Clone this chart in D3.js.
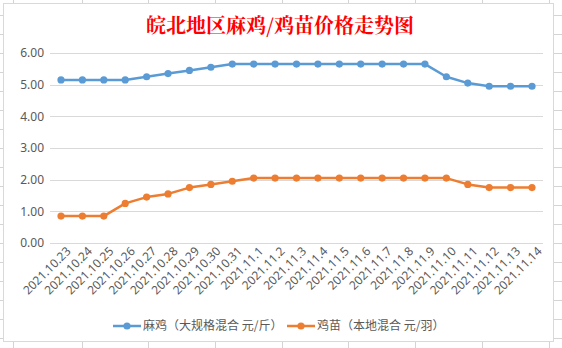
<!DOCTYPE html>
<html><head><meta charset="utf-8">
<script src="https://cdn.jsdelivr.net/npm/d3@7"></script>
<style>
html,body{margin:0;padding:0;background:#fff;}
svg{display:block;font-family:"Noto Sans CJK SC","Microsoft YaHei",sans-serif;}
</style></head>
<body>
<svg id="c" width="562" height="348"></svg>
<script>
const title = "皖北地区麻鸡/鸡苗价格走势图";
const categories = ["2021.10.23","2021.10.24","2021.10.25","2021.10.26","2021.10.27","2021.10.28","2021.10.29","2021.10.30","2021.10.31","2021.11.1","2021.11.2","2021.11.3","2021.11.4","2021.11.5","2021.11.6","2021.11.7","2021.11.8","2021.11.9","2021.11.10","2021.11.11","2021.11.12","2021.11.13","2021.11.14"];
const seriesNames = ["麻鸡（大规格混合 元/斤）","鸡苗（本地混合 元/羽）"];
const maji = [5.15,5.15,5.15,5.15,5.25,5.35,5.45,5.55,5.65,5.65,5.65,5.65,5.65,5.65,5.65,5.65,5.65,5.65,5.25,5.05,4.95,4.95,4.95];
const jimiao = [0.85,0.85,0.85,1.25,1.45,1.55,1.75,1.85,1.95,2.05,2.05,2.05,2.05,2.05,2.05,2.05,2.05,2.05,2.05,1.85,1.75,1.75,1.75];
const yTicks = [0,1,2,3,4,5,6];
const colors = ["#5B9BD5","#ED7D31"];

const svg = d3.select("#c");
const bg = svg.append("g").attr("stroke","#d4d4d4").attr("stroke-width",1);
[13,82,148,215,282,348,415,482,549].forEach(x=>{
  bg.append("line").attr("x1",x+0.5).attr("x2",x+0.5).attr("y1",0).attr("y2",3);
  bg.append("line").attr("x1",x+0.5).attr("x2",x+0.5).attr("y1",342).attr("y2",348);
});
d3.range(15,348,19).forEach(y=>{
  bg.append("line").attr("x1",0).attr("x2",3).attr("y1",y+0.5).attr("y2",y+0.5);
  bg.append("line").attr("x1",554).attr("x2",562).attr("y1",y+0.5).attr("y2",y+0.5);
});
svg.append("rect").attr("x",3.5).attr("y",3.5).attr("width",550).attr("height",338)
  .attr("fill","#fff").attr("stroke","#d9d9d9");

const x = d3.scalePoint().domain(categories).range([61,532]);
const y = d3.scaleLinear().domain([0,6]).range([243,53]);

svg.append("g").selectAll("line").data(yTicks).join("line")
  .attr("x1",50).attr("x2",543)
  .attr("y1",d=>Math.round(y(d))+0.5).attr("y2",d=>Math.round(y(d))+0.5)
  .attr("stroke","#d9d9d9").attr("stroke-width",1);

const yAxis = d3.axisLeft(y).tickValues(yTicks).tickFormat(d3.format(".2f")).tickSize(0).tickPadding(0);
const yg = svg.append("g").attr("transform","translate(44,0)").call(yAxis);
yg.select(".domain").remove();
yg.selectAll("text").attr("fill","#595959").style("font-family","'Noto Sans','DejaVu Sans',sans-serif").style("font-size","12px");

const xAxis = d3.axisBottom(x).tickSize(0).tickPadding(0);
const xg = svg.append("g").attr("transform","translate(0,249)").call(xAxis);
xg.select(".domain").remove();
xg.selectAll("text")
  .attr("fill","#595959").style("font-family","'Noto Sans','DejaVu Sans',sans-serif").style("font-size","12px")
  .attr("text-anchor","end").attr("dy","0.35em").attr("x",5).attr("y",5)
  .attr("transform","rotate(-45)");

const line = d3.line().x((d,i)=>x(categories[i])).y(d=>y(d));
[maji,jimiao].forEach((vals,k)=>{
  svg.append("path").datum(vals).attr("d",line).attr("fill","none")
    .attr("stroke",colors[k]).attr("stroke-width",2.5).attr("stroke-linejoin","round");
  svg.append("g").selectAll("circle").data(vals).join("circle")
    .attr("cx",(d,i)=>x(categories[i])).attr("cy",d=>y(d)).attr("r",3.6)
    .attr("fill",colors[k]);
});

svg.append("text").attr("x",280).attr("y",33).attr("text-anchor","middle")
  .attr("fill","#FF0000").style("font-size","20px").style("font-weight","bold")
  .style("font-family","'Noto Serif CJK SC','Noto Sans CJK SC',serif")
  .text(title);

const legX = [113,287];
seriesNames.forEach((n,k)=>{
  const g = svg.append("g").attr("transform",`translate(${legX[k]},326)`);
  g.append("line").attr("x1",0).attr("x2",28).attr("y1",0).attr("y2",0)
    .attr("stroke",colors[k]).attr("stroke-width",2.5);
  g.append("circle").attr("cx",14).attr("cy",0).attr("r",3.6).attr("fill",colors[k]);
  g.append("text").attr("x",30).attr("y",0).attr("dy","0.35em")
    .attr("fill","#595959").style("font-size","12px").text(n);
});
</script>
</body></html>
